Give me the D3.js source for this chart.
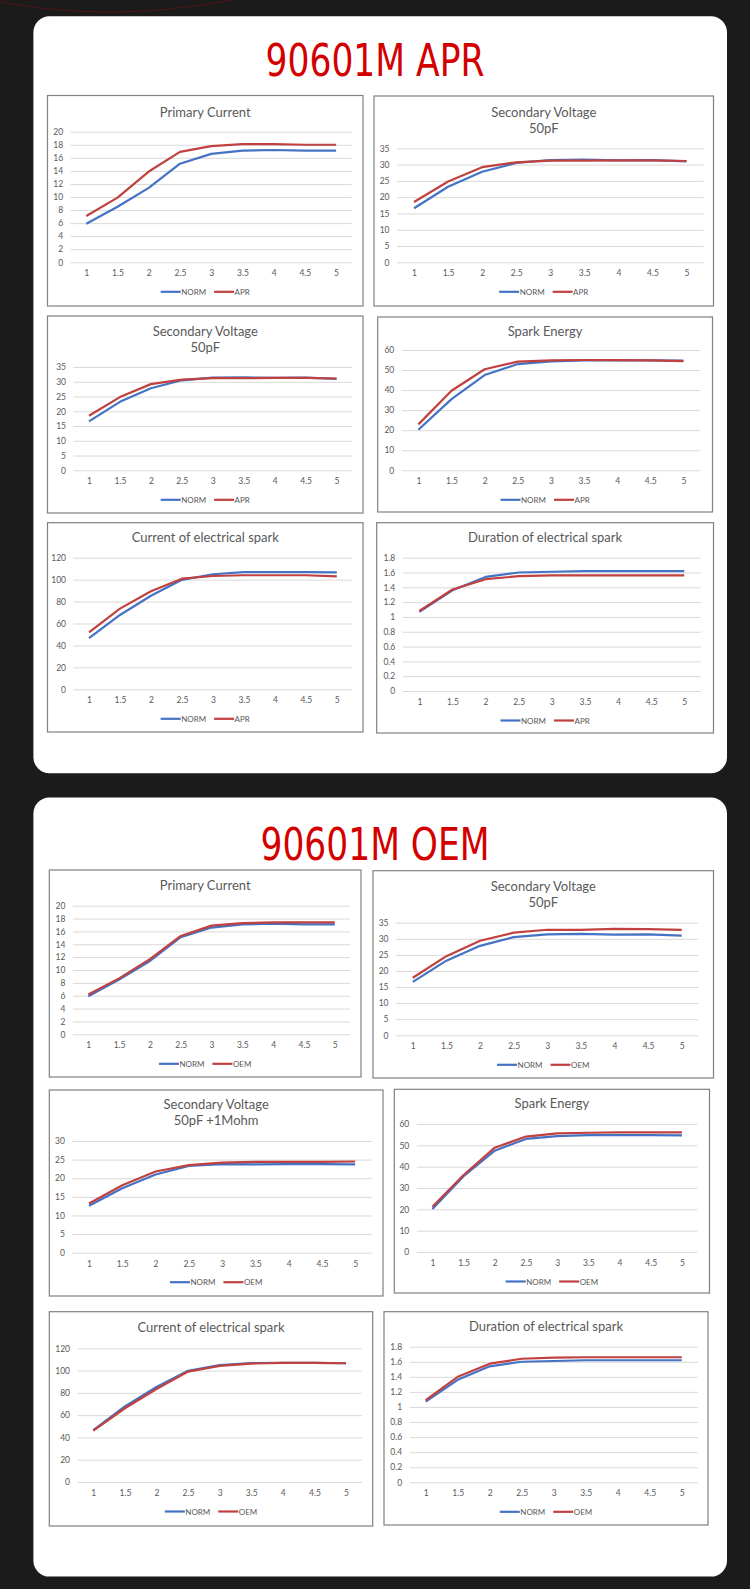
<!DOCTYPE html>
<html>
<head>
<meta charset="utf-8">
<script src="https://cdn.jsdelivr.net/npm/d3@7"></script>
<style>
  body { margin: 0; background: #1b1b1b; }
  svg { display: block; }
</style>
</head>
<body>
<svg id="page" width="750" height="1589"></svg>
<script>
// x categories shared by every chart
var volts = ['1', '1.5', '2', '2.5', '3', '3.5', '4', '4.5', '5'];

// NORM series (same coil in both cards)
var normPrimary = [5.9, 8.5, 11.4, 15.1, 16.6, 17.1, 17.2, 17.1, 17.1];
var normSecV    = [16.6, 23.2, 27.8, 30.5, 31.4, 31.5, 31.3, 31.4, 31.0];
var normSecVR   = [12.6, 17.3, 21.0, 23.3, 23.8, 23.7, 23.8, 23.8, 23.7];
var normEnergy  = [20.2, 35.5, 47.5, 53.0, 54.3, 54.8, 54.8, 54.8, 54.7];
var normSpark   = [46.6, 67.8, 85.3, 99.8, 104.9, 106.8, 106.9, 106.9, 106.6];
var normDur     = [1.07, 1.36, 1.54, 1.60, 1.61, 1.62, 1.62, 1.62, 1.62];

// APR series
var aprPrimary = [7.1, 9.9, 13.9, 16.9, 17.8, 18.1, 18.1, 18.0, 18.0];
var aprSecV    = [18.5, 24.8, 29.2, 30.7, 31.2, 31.2, 31.3, 31.3, 31.1];
var aprEnergy  = [22.9, 39.7, 50.4, 54.2, 54.8, 55.0, 55.0, 54.8, 54.5];
var aprSpark   = [52.0, 73.6, 89.4, 100.9, 103.3, 104.0, 104.0, 104.0, 103.0];
var aprDur     = [1.08, 1.37, 1.51, 1.55, 1.56, 1.56, 1.56, 1.56, 1.56];

// OEM series
var oemPrimary = [6.2, 8.7, 11.7, 15.3, 16.9, 17.3, 17.4, 17.4, 17.4];
var oemSecV    = [17.9, 24.6, 29.4, 31.9, 32.8, 32.8, 33.1, 33.0, 32.8];
var oemSecVR   = [13.2, 18.1, 21.8, 23.5, 24.2, 24.4, 24.4, 24.4, 24.5];
var oemEnergy  = [21.2, 36.1, 48.9, 54.1, 55.6, 55.9, 56.1, 56.1, 56.1];
var oemSpark   = [46.1, 66.2, 83.5, 99.1, 104.2, 106.3, 106.9, 106.9, 106.6];
var oemDur     = [1.09, 1.40, 1.575, 1.64, 1.655, 1.66, 1.66, 1.66, 1.66];

// y tick labels
var ticksPrimary = [0, 2, 4, 6, 8, 10, 12, 14, 16, 18, 20];
var ticksSecV    = [0, 5, 10, 15, 20, 25, 30, 35];
var ticksSecVR   = [0, 5, 10, 15, 20, 25, 30];
var ticksEnergy  = [0, 10, 20, 30, 40, 50, 60];
var ticksSpark   = [0, 20, 40, 60, 80, 100, 120];
var ticksDur     = [0, 0.2, 0.4, 0.6, 0.8, 1, 1.2, 1.4, 1.6, 1.8];

var cardTitles = ['90601M APR', '90601M OEM'];

var BLUE = '#4472c4', RED = '#c0413f', GREY = '#595959';
var FONT = 'Lato, "Open Sans", sans-serif';

var charts = [
  { box: [47.5, 95.5, 363, 306], titleY: 116.5, title: ['Primary Current'], top: 131.7, bottom: 262.3, left: 70.7, right: 351.7,
    ticks: ticksPrimary, norm: normPrimary, other: aprPrimary, name: 'APR' },
  { box: [374, 96, 713.5, 306], titleY: 116.7, title: ['Secondary Voltage', '50pF'], top: 148.3, bottom: 262.3, left: 397, right: 703.5,
    ticks: ticksSecV, norm: normSecV, other: aprSecV, name: 'APR' },
  { box: [47.5, 316, 363, 513], titleY: 336, title: ['Secondary Voltage', '50pF'], top: 367, bottom: 470.3, left: 73.5, right: 352,
    ticks: ticksSecV, norm: normSecV, other: aprSecV, name: 'APR' },
  { box: [377.7, 317, 712.5, 512], titleY: 336, title: ['Spark Energy'], top: 350, bottom: 470.3, left: 401.8, right: 700,
    ticks: ticksEnergy, norm: normEnergy, other: aprEnergy, name: 'APR' },
  { box: [47.5, 522.7, 363, 732], titleY: 542.3, title: ['Current of electrical spark'], top: 557.7, bottom: 689.3, left: 73.5, right: 352.3,
    ticks: ticksSpark, norm: normSpark, other: aprSpark, name: 'APR' },
  { box: [376.7, 522.7, 713.5, 733], titleY: 542.3, title: ['Duration of electrical spark'], top: 557.7, bottom: 691, left: 402.8, right: 700.8,
    ticks: ticksDur, norm: normDur, other: aprDur, name: 'APR' },

  { box: [49.3, 870, 361, 1077], titleY: 890, title: ['Primary Current'], top: 905.7, bottom: 1034.3, left: 72.9, right: 350.2,
    ticks: ticksPrimary, norm: normPrimary, other: oemPrimary, name: 'OEM' },
  { box: [373, 870.7, 713.5, 1078], titleY: 891, title: ['Secondary Voltage', '50pF'], top: 922.7, bottom: 1035.3, left: 396, right: 698.5,
    ticks: ticksSecV, norm: normSecV, other: oemSecV, name: 'OEM' },
  { box: [49.3, 1090, 383, 1296], titleY: 1109, title: ['Secondary Voltage', '50pF +1Mohm'], top: 1141, bottom: 1252.7, left: 72.4, right: 371.8,
    ticks: ticksSecVR, norm: normSecVR, other: oemSecVR, name: 'OEM' },
  { box: [394.3, 1089.3, 709.5, 1293], titleY: 1108.3, title: ['Spark Energy'], top: 1124, bottom: 1252, left: 416.8, right: 697.5,
    ticks: ticksEnergy, norm: normEnergy, other: oemEnergy, name: 'OEM' },
  { box: [49.3, 1311.7, 372.7, 1526], titleY: 1331.7, title: ['Current of electrical spark'], top: 1348.3, bottom: 1482, left: 77.5, right: 361.8,
    ticks: ticksSpark, norm: normSpark, other: oemSpark, name: 'OEM' },
  { box: [384, 1311.7, 708, 1525], titleY: 1331, title: ['Duration of electrical spark'], top: 1346.7, bottom: 1482.3, left: 409.7, right: 697.8,
    ticks: ticksDur, norm: normDur, other: oemDur, name: 'OEM' }
];

var svg = d3.select('#page');

svg.append('rect').attr('width', 750).attr('height', 1589).attr('fill', '#1b1b1b');

// faint decorative arc in the top-left corner
svg.append('circle')
   .attr('cx', 110).attr('cy', -598).attr('r', 610)
   .attr('fill', 'none').attr('stroke', '#4d1618').attr('stroke-width', 1);

var cards = [[33.4, 16.2, 693.6, 757], [33.4, 797.6, 693.6, 779]];
var titleWidths = [219, 229];
cards.forEach(function(c, i) {
   svg.append('rect')
      .attr('x', c[0]).attr('y', c[1]).attr('width', c[2]).attr('height', c[3])
      .attr('rx', 16).attr('fill', '#fff');
   svg.append('text')
      .attr('x', 375).attr('y', i == 0 ? 76 : 860)
      .attr('text-anchor', 'middle')
      .attr('textLength', titleWidths[i])
      .attr('lengthAdjust', 'spacingAndGlyphs')
      .style('font-family', '"Liberation Sans Narrow", "DejaVu Sans Condensed", sans-serif')
      .style('font-size', '44px')
      .attr('fill', '#d40000')
      .text(cardTitles[i]);
});

function drawChart(c) {
   var g = svg.append('g').attr('class', 'chart');
   var b = c.box;

   g.append('rect')
      .attr('x', b[0]).attr('y', b[1])
      .attr('width', b[2] - b[0]).attr('height', b[3] - b[1])
      .attr('fill', '#fff').attr('stroke', '#808080').attr('stroke-width', 1.2);

   var cx = (b[0] + b[2]) / 2;
   g.selectAll('.ctitle')
      .data(c.title)
      .enter().append('text')
      .attr('class', 'ctitle')
      .attr('x', cx)
      .attr('y', function(d, i) { return c.titleY + i * 16; })
      .attr('text-anchor', 'middle')
      .style('font-family', FONT).style('font-size', '13px')
      .attr('fill', GREY)
      .text(function(d) { return d; });

   var x = d3.scalePoint().domain(volts).range([c.left, c.right]).padding(0.5);
   var y = d3.scaleLinear().domain([0, d3.max(c.ticks)]).range([c.bottom, c.top]);

   var ya = g.append('g')
      .attr('transform', 'translate(' + c.left + ',0)')
      .call(d3.axisLeft(y).tickValues(c.ticks).tickSize(-(c.right - c.left)).tickPadding(7.5)
               .tickFormat(function(d) { return String(d); }));
   ya.select('.domain').remove();
   ya.selectAll('line').attr('stroke', '#d9d9d9');
   ya.selectAll('text').attr('fill', GREY).style('font-family', FONT).style('font-size', '8.5px');

   var xa = g.append('g')
      .attr('transform', 'translate(0,' + c.bottom + ')')
      .call(d3.axisBottom(x).tickSize(0).tickPadding(8));
   xa.select('.domain').remove();
   xa.selectAll('text').attr('fill', GREY).style('font-family', FONT).style('font-size', '8.5px');

   var line = d3.line()
      .x(function(d, i) { return x(volts[i]); })
      .y(function(d) { return y(d); });

   g.selectAll('.series')
      .data([{ v: c.norm, col: BLUE }, { v: c.other, col: RED }])
      .enter().append('path')
      .attr('class', 'series')
      .attr('d', function(d) { return line(d.v); })
      .attr('fill', 'none')
      .attr('stroke', function(d) { return d.col; })
      .attr('stroke-width', 2.2)
      .attr('stroke-linejoin', 'round');

   // legend, centred under the plot
   var ly = c.bottom + 29.5;
   var lg = g.append('g');
   var items = [{ n: 'NORM', col: BLUE }, { n: c.name, col: RED }];
   var pos = 0;
   items.forEach(function(it) {
      lg.append('line')
         .attr('x1', pos).attr('x2', pos + 20).attr('y1', ly).attr('y2', ly)
         .attr('stroke', it.col).attr('stroke-width', 2.2);
      var t = lg.append('text')
         .attr('x', pos + 20.5).attr('y', ly + 3)
         .style('font-family', FONT).style('font-size', '8px')
         .attr('fill', GREY)
         .text(it.n);
      pos += 20.5 + t.node().getComputedTextLength() + 8;
   });
   var lw = pos - 8;
   lg.attr('transform', 'translate(' + (cx - lw / 2) + ',0)');
}

charts.forEach(drawChart);
</script>
</body>
</html>
